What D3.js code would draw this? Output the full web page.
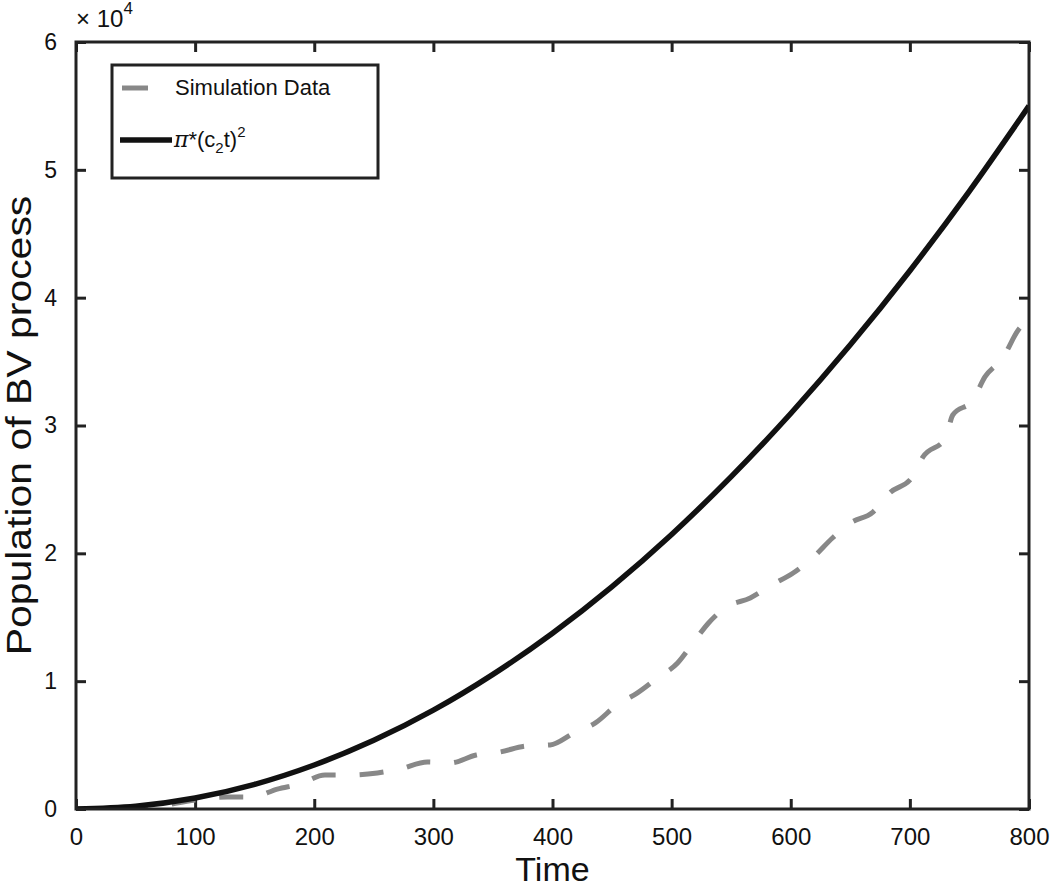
<!DOCTYPE html>
<html>
<head>
<meta charset="utf-8">
<script src="https://cdn.jsdelivr.net/npm/d3@7"></script>
<style>
  body { margin: 0; background: #fff; }
  svg text { font-family: "Liberation Sans", Arial, Helvetica, sans-serif; fill: #111; }
</style>
</head>
<body>
<svg id="chart" width="1050" height="888"></svg>
<script>
// simulation data
const simTime = [0, 60, 100, 127, 148, 169, 188, 209, 230, 253, 272, 295, 314, 336, 356, 378, 398,
  418, 436, 454, 471, 488, 505, 518, 531, 546, 566, 584, 602, 619, 635, 650, 669, 683, 702,
  711, 730, 736, 753, 763, 778, 791, 800];
const simPop = [0, 120, 700, 940, 940, 1560, 1960, 2660, 2660, 2820, 3130, 3680, 3600, 4220, 4460,
  4930, 5010, 5950, 6730, 8140, 9070, 10250, 11420, 12990, 14550, 15800, 16510, 17520, 18460,
  19710, 21200, 22370, 23230, 24720, 25970, 27540, 29020, 30820, 32000, 33800, 35280, 37470, 38300];

// pi*(c2 t)^2 curve, values read at every 50 time units
const fitTime = [0, 50, 100, 150, 200, 250, 300, 350, 400, 450, 500, 550, 600, 650, 700, 750, 800];
const fitPop = [0, 215, 860, 1930, 3440, 5370, 7730, 10530, 13750, 17400, 21480, 26000, 30940,
  36310, 42110, 48340, 55000];

const xTicks = [0, 100, 200, 300, 400, 500, 600, 700, 800];
const yTicks = [0, 1, 2, 3, 4, 5, 6]; // in units of 10^4

const margin = { top: 42, right: 21, bottom: 79, left: 76 };
const width = 1050 - margin.left - margin.right;
const height = 888 - margin.top - margin.bottom;

const svg = d3.select('#chart');
const g = svg.append('g').attr('transform', `translate(${margin.left},${margin.top})`);

const x = d3.scaleLinear().domain([0, 800]).range([0, width]);
const y = d3.scaleLinear().domain([0, 60000]).range([height, 0]);

g.append('clipPath').attr('id', 'clip')
  .append('rect').attr('width', width).attr('height', height);

const axisColor = '#222';
const tickLen = 10;

function styleAxis(fontSize) {
  return sel => {
    sel.select('.domain').remove();
    sel.selectAll('.tick line').attr('stroke', axisColor).attr('stroke-width', 3);
    sel.selectAll('.tick text').style('font-size', fontSize + 'px').attr('fill', '#111');
  };
}

g.append('g')
  .attr('transform', `translate(0,${height})`)
  .call(d3.axisBottom(x).tickValues(xTicks).tickSize(-tickLen).tickPadding(19))
  .call(styleAxis(24));

g.append('g')
  .call(d3.axisTop(x).tickValues(xTicks).tickSize(-tickLen).tickFormat(''))
  .call(styleAxis(24));

g.append('g')
  .call(d3.axisLeft(y).tickValues(yTicks.map(d => d * 1e4)).tickSize(-tickLen).tickPadding(19)
    .tickFormat(d => d / 1e4))
  .call(styleAxis(23));

g.append('g')
  .attr('transform', `translate(${width},0)`)
  .call(d3.axisRight(y).tickValues(yTicks.map(d => d * 1e4)).tickSize(-tickLen).tickFormat(''))
  .call(styleAxis(23));

// lines
const simLine = d3.line().x((d, i) => x(simTime[i])).y(d => y(d)).curve(d3.curveMonotoneX);
const fitLine = d3.line().x((d, i) => x(fitTime[i])).y(d => y(d)).curve(d3.curveMonotoneX);

const plot = g.append('g').attr('clip-path', 'url(#clip)');

plot.append('path')
  .datum(simPop)
  .attr('d', simLine)
  .attr('fill', 'none')
  .attr('stroke', '#888')
  .attr('stroke-width', 5)
  .attr('stroke-dasharray', '24,24');

plot.append('path')
  .datum(fitPop)
  .attr('d', fitLine)
  .attr('fill', 'none')
  .attr('stroke', '#111')
  .attr('stroke-width', 5.5);

// frame
g.append('rect')
  .attr('width', width)
  .attr('height', height)
  .attr('fill', 'none')
  .attr('stroke', axisColor)
  .attr('stroke-width', 3);

// exponent label
const expo = g.append('text')
  .attr('x', 0)
  .attr('y', -15)
  .style('font-size', '24px');
expo.append('tspan').text('\u00d7 10');
expo.append('tspan').attr('dy', -13).style('font-size', '17px').text('4');

// axis titles
svg.append('text')
  .attr('x', margin.left + width / 2)
  .attr('y', 881)
  .attr('text-anchor', 'middle')
  .style('font-size', '34px')
  .text('Time');

svg.append('text')
  .attr('transform', `translate(31,${margin.top + height / 2}) scale(1,1.17) rotate(-90)`)
  .attr('text-anchor', 'middle')
  .style('font-size', '35px')
  .text('Population of BV process');

// legend
const legend = svg.append('g');
legend.append('rect')
  .attr('x', 112).attr('y', 65)
  .attr('width', 266).attr('height', 113)
  .attr('fill', '#fff')
  .attr('stroke', axisColor)
  .attr('stroke-width', 3);

legend.append('line')
  .attr('x1', 122).attr('x2', 148).attr('y1', 88).attr('y2', 88)
  .attr('stroke', '#888').attr('stroke-width', 5);
legend.append('text')
  .attr('x', 175).attr('y', 95)
  .style('font-size', '22px')
  .text('Simulation Data');

legend.append('line')
  .attr('x1', 120).attr('x2', 172).attr('y1', 140).attr('y2', 140)
  .attr('stroke', '#111').attr('stroke-width', 5.5);
const lt = legend.append('text')
  .attr('x', 174).attr('y', 147)
  .style('font-size', '22px');
lt.append('tspan').style('font-family', '"DejaVu Serif", serif').style('font-style', 'italic').text('\u03c0');
lt.append('tspan').text('*(c');
lt.append('tspan').attr('dy', 6).style('font-size', '15px').text('2');
lt.append('tspan').attr('dy', -6).text('t)');
lt.append('tspan').attr('dy', -10).style('font-size', '15px').text('2');
</script>
</body>
</html>
